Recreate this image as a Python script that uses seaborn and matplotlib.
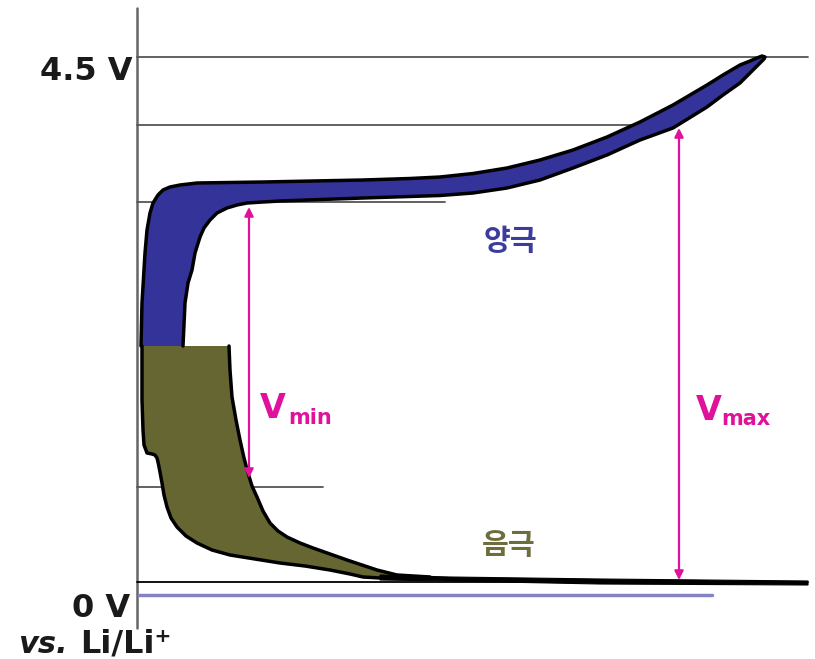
import matplotlib
matplotlib.use("Agg")
import matplotlib.pyplot as plt
import seaborn as sns

# schematic coordinates (capacity along x, potential along y, image-like units)
cathode_outer_x = [141, 142, 145, 147, 150, 153, 158, 163, 170, 180, 197, 263, 363, 410, 440, 473,
                   507, 540, 573, 607, 640, 673, 690, 707, 723, 740, 750, 757, 762, 765]
cathode_outer_y = [346, 303, 253, 230, 213, 203, 195, 190, 187, 185, 183, 182, 180, 178.5, 177, 173.5,
                   168, 160, 150, 137, 122, 105, 95, 85, 75, 65, 61, 58, 56, 57]
cathode_inner_x = [764, 760, 750, 740, 723, 707, 673, 640, 607, 573, 540, 507, 473, 440, 363,
                   280, 263, 247, 237, 227, 217, 210, 204, 200, 195, 192, 188, 185, 183]
cathode_inner_y = [59, 63, 73, 83, 95, 107, 128, 140, 155, 168, 180, 188, 193, 195.5, 198,
                   201, 202, 203, 205, 208, 213, 220, 228, 237, 253, 270, 283, 303, 346]

anode_left_x = [142, 142, 143, 144, 147, 152, 155, 157, 158, 160, 162, 164, 167, 171, 177,
                186, 197, 212, 230, 255, 280, 305, 330, 350, 363, 380]
anode_left_y = [346, 400, 430, 445, 453, 454, 455, 458, 462, 472, 483, 495, 507, 518, 527,
                536, 543, 550, 555, 559, 563, 566, 570, 574, 577, 578]
anode_right_x = [229, 230, 232, 236, 240, 244, 248, 252, 257, 263, 270, 278, 287, 300, 313,
                 330, 347, 362, 377, 397, 430]
anode_right_y = [346, 370, 397, 420, 440, 458, 473, 486, 497, 511, 523, 531, 537, 543, 548,
                 554, 560, 565, 570, 575, 577]

tail_upper_x = [380, 450, 600, 808]
tail_upper_y = [575, 577, 579, 581]
tail_lower_x = [808, 600, 450, 380]
tail_lower_y = [585, 584, 581, 580]

guide_y = [57, 125, 202, 487]
guide_x_end = [808, 653, 445, 323]
zero_line_y = 582
li_ref_y = 595

vmin_x, vmin_top, vmin_bottom = 249, 207, 478
vmax_x, vmax_top, vmax_bottom = 679, 128, 580

BLUE = "#333399"
OLIVE = "#666633"
MAGENTA = "#e0119b"

sns.set_theme(style="white")
plt.rcParams["font.family"] = ["DejaVu Sans", "Noto Sans CJK KR"]

fig = plt.figure(figsize=(8.15, 6.59), dpi=100)
ax = fig.add_axes([0, 0, 1, 1])

# guide lines and axis
ax.plot([137, 137], [8, 628], color="#666666", lw=1.8, zorder=1)
for y, xe in zip(guide_y, guide_x_end):
    ax.plot([137, xe], [y, y], color="#555555", lw=1.3, zorder=1)
ax.plot([137, 808], [zero_line_y, zero_line_y], color="black", lw=1.3, zorder=1)
ax.plot([139, 712], [li_ref_y, li_ref_y], color="#8484c4", lw=2.5, zorder=1)

line_kw = dict(sort=False, estimator=None, color="black", lw=2.5, ax=ax, zorder=3,
               solid_joinstyle="round", solid_capstyle="round")

# positive electrode band
ax.fill(cathode_outer_x + cathode_inner_x, cathode_outer_y + cathode_inner_y,
        color=BLUE, lw=0, zorder=2)
sns.lineplot(x=cathode_outer_x + cathode_inner_x, y=cathode_outer_y + cathode_inner_y, **line_kw)

# negative electrode band
ax.fill(anode_left_x + anode_right_x[::-1], anode_left_y + anode_right_y[::-1],
        color=OLIVE, lw=0, zorder=2)
sns.lineplot(x=anode_left_x, y=anode_left_y, **line_kw)
sns.lineplot(x=anode_right_x, y=anode_right_y, **line_kw)
ax.fill(tail_upper_x + tail_lower_x, tail_upper_y + tail_lower_y,
        color="black", lw=0.8, zorder=3)

# voltage windows
for xa, ya, yb in [(vmin_x, vmin_top, vmin_bottom), (vmax_x, vmax_top, vmax_bottom)]:
    ax.annotate("", xy=(xa, ya), xytext=(xa, yb),
                arrowprops=dict(arrowstyle="<|-|>", color=MAGENTA, lw=1.6,
                                mutation_scale=13, shrinkA=0, shrinkB=0),
                zorder=4)

ax.text(260, 418, "V", fontsize=24, weight="bold", color=MAGENTA, va="baseline")
ax.text(288, 424, "min", fontsize=15, weight="bold", color=MAGENTA, va="baseline")
ax.text(696, 420, "V", fontsize=24, weight="bold", color=MAGENTA, va="baseline")
ax.text(721, 425, "max", fontsize=15, weight="bold", color=MAGENTA, va="baseline")

ax.text(484, 241, "양극", fontsize=21, weight="bold", color="#3c3c9c",
        va="center", family="Noto Sans CJK KR")
ax.text(482, 545, "음극", fontsize=21, weight="bold", color="#6e6e3c",
        va="center", family="Noto Sans CJK KR")

ax.text(132, 80, "4.5 V", fontsize=23, weight="bold", color="#1a1a1a",
        ha="right", va="baseline")
ax.text(130, 617, "0 V", fontsize=23, weight="bold", color="#1a1a1a",
        ha="right", va="baseline")
ax.text(18, 653, "vs.", fontsize=22, weight="bold", style="italic",
        color="#1a1a1a", va="baseline")
ax.text(80, 653, "Li/Li⁺", fontsize=23, weight="bold", color="#1a1a1a",
        va="baseline")

ax.set_xlim(0, 815)
ax.set_ylim(659, 0)
ax.axis("off")

fig.savefig("out.png", dpi=100)
